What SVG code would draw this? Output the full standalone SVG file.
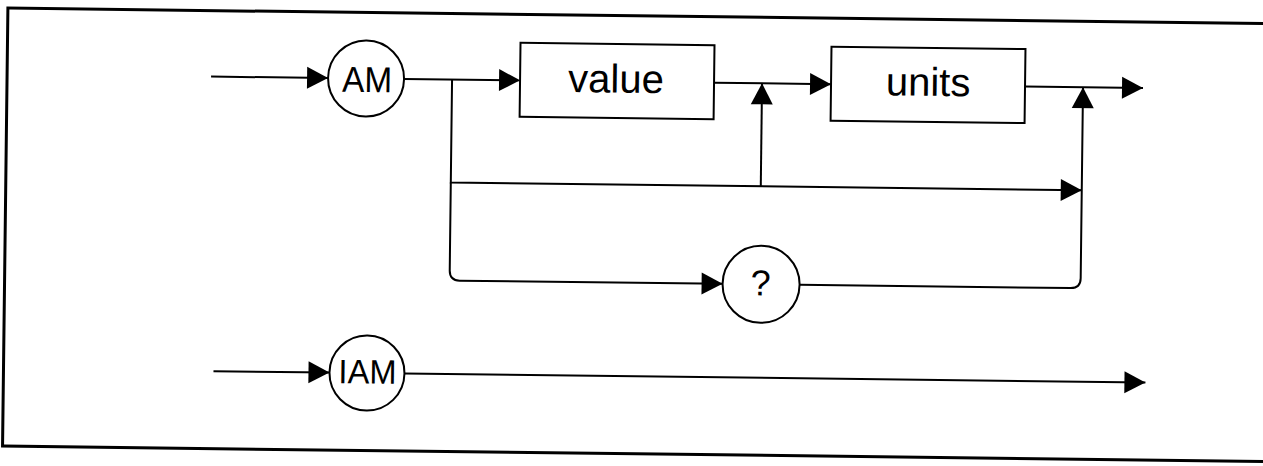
<svg xmlns="http://www.w3.org/2000/svg" width="1263" height="466" viewBox="0 0 1263 466">
<style>
.ln{fill:none;stroke:#000;stroke-width:2}
.nd{fill:#fff;stroke:#000;stroke-width:2}
.tx{font-family:"Liberation Sans",Arial,sans-serif;fill:#000;text-anchor:middle}
</style>
<defs>
<path id="ah" d="M0,0 L-21,-11 L-21,11 Z" fill="#000"/>
</defs>
<rect width="1263" height="466" fill="#fff"/>
<g transform="rotate(0.7)">
<rect x="8" y="8" width="1275" height="438" fill="none" stroke="#000" stroke-width="3"/>
<g id="connectors">
<path class="ln" d="M212,74 H329"/>
<path class="ln" d="M405,74 H521"/>
<path class="ln" d="M715,74 H832"/>
<path class="ln" d="M1026,74 H1144"/>
<path class="ln" d="M453,74 V177 H1084"/>
<path class="ln" d="M763,177 V74"/>
<path class="ln" d="M453,177 V265 Q453,275 463,275 H726"/>
<path class="ln" d="M803,275 H1074 Q1084,275 1084,265 V74"/>
<path class="ln" d="M218,368.5 H334"/>
<path class="ln" d="M409,368.5 H1150"/>
<use href="#ah" transform="translate(329,74)"/>
<use href="#ah" transform="translate(521,74)"/>
<use href="#ah" transform="translate(832,74)"/>
<use href="#ah" transform="translate(1144,74)"/>
<use href="#ah" transform="translate(763,74) rotate(-90)"/>
<use href="#ah" transform="translate(1084,74) rotate(-90)"/>
<use href="#ah" transform="translate(1084,177)"/>
<use href="#ah" transform="translate(726,275)"/>
<use href="#ah" transform="translate(334,368.5)"/>
<use href="#ah" transform="translate(1150,368.5)"/>
</g>
<g id="node-am">
<circle class="nd" cx="367" cy="74" r="38"/>
<text class="tx" x="368" y="87.5" font-size="36" textLength="50" lengthAdjust="spacingAndGlyphs">AM</text>
</g>
<g id="node-value">
<rect class="nd" x="521" y="36.5" width="194" height="74"/>
<text class="tx" x="617" y="85" font-size="40">value</text>
</g>
<g id="node-units">
<rect class="nd" x="832" y="36.5" width="194" height="74"/>
<text class="tx" x="929" y="84.5" font-size="40">units</text>
</g>
<g id="node-query">
<circle class="nd" cx="764.5" cy="275" r="38.5"/>
<text class="tx" x="764" y="286" font-size="36">?</text>
</g>
<g id="node-iam">
<circle class="nd" cx="371.5" cy="368.5" r="37.5"/>
<text class="tx" x="372" y="379" font-size="34" textLength="58" lengthAdjust="spacingAndGlyphs">IAM</text>
</g>
</g>
</svg>
